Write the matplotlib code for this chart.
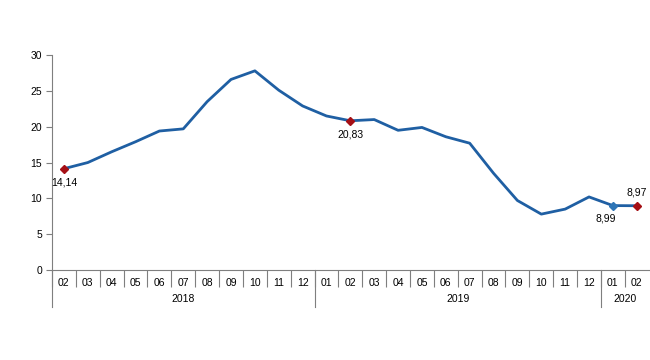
import matplotlib
matplotlib.use("Agg")
import matplotlib.pyplot as plt
import matplotlib.transforms as mtransforms
import numpy as np

plt.rcParams['font.family'] = ['Liberation Sans', 'DejaVu Sans']

# aylar (02/2018 - 02/2020)
months = ["02", "03", "04", "05", "06", "07", "08", "09", "10", "11", "12",
          "01", "02", "03", "04", "05", "06", "07", "08", "09", "10", "11", "12",
          "01", "02"]
values = [14.14, 15.0, 16.5, 17.9, 19.4, 19.7, 23.5, 26.6, 27.8, 25.1, 22.9,
          21.5, 20.83, 21.0, 19.5, 19.9, 18.6, 17.7, 13.5, 9.7, 7.8, 8.5, 10.2,
          8.99, 8.97]
years = ["2018", "2019", "2020"]
year_counts = [11, 12, 2]

# isaretli noktalar: indeks, etiket, renk
marks_idx = [0, 12, 23, 24]
marks_lbl = ["14,14", "20,83", "8,99", "8,97"]
marks_col = ["#A50F15", "#A50F15", "#2E75B6", "#A50F15"]

blue = "#1F5FA3"
grey = "#7F7F7F"

fig = plt.figure(figsize=(6.5, 3.6), dpi=100)
ax = fig.add_axes([0.08, 0.25, 0.918, 0.597])

x = np.arange(len(values))
ax.plot(x, values, color=blue, lw=2)
for i, lbl, c in zip(marks_idx, marks_lbl, marks_col):
    ax.plot(x[i], values[i], marker="D", ms=4.5, color=c, mec=c)
    if i == 24:
        ax.annotate(lbl, (x[i], values[i]), xytext=(0, 6), textcoords="offset points",
                    ha="center", va="bottom", fontsize=7.5)
    elif i == 23:
        ax.annotate(lbl, (x[i], values[i]), xytext=(-5, -6), textcoords="offset points",
                    ha="center", va="top", fontsize=7.5)
    else:
        ax.annotate(lbl, (x[i], values[i]), xytext=(0, -6), textcoords="offset points",
                    ha="center", va="top", fontsize=7.5)

ax.set_xlim(-0.5, len(values) - 0.5)
ax.set_ylim(0, 30)
ax.set_yticks(range(0, 31, 5))
ax.tick_params(axis="y", labelsize=7.5, length=4, color=grey, width=0.8, pad=3)

ax.set_xticks(x)
ax.set_xticklabels(months)
ax.tick_params(axis="x", which="major", length=0, labelsize=7.5, pad=6)
ax.set_xticks(np.arange(-0.5, len(values) - 1, 1.0), minor=True)
ax.tick_params(axis="x", which="minor", length=12.5, color=grey, width=0.8)

for s in ["top", "right"]:
    ax.spines[s].set_visible(False)
ax.spines["left"].set_color(grey)
ax.spines["bottom"].set_color(grey)
ax.spines["left"].set_linewidth(0.8)
ax.spines["bottom"].set_linewidth(0.8)

trans = mtransforms.blended_transform_factory(ax.transData, ax.transAxes)
start = -0.5
bounds = [start]
for yr, n in zip(years, year_counts):
    ax.text(start + n / 2, -0.135, yr, transform=trans, ha="center", va="center",
            fontsize=7.5)
    start += n
    bounds.append(start)
for b in bounds[:-1]:
    ax.plot([b, b], [0, -0.17], transform=trans, color=grey, lw=0.8, clip_on=False)

fig.savefig("out.png", dpi=100)
